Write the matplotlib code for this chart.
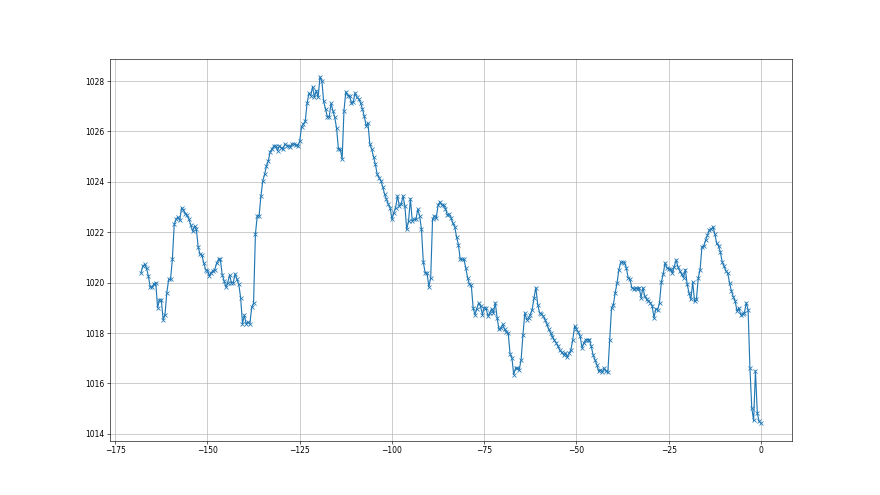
import numpy as np
import matplotlib
matplotlib.use("Agg")
import matplotlib.pyplot as plt

# hours before now, half-hourly readings
hours = np.arange(-168, 0.5, 0.5)

pressure = [
    # -168 .. -143
    1020.39, 1020.65, 1020.72, 1020.56, 1020.26, 1019.82, 1019.82, 1019.95, 1020.0, 1019.0,
    1019.32, 1019.32, 1018.53, 1018.73, 1019.6, 1020.13, 1020.13, 1020.92, 1022.31, 1022.51,
    1022.6, 1022.47, 1022.98, 1022.87, 1022.74, 1022.68, 1022.51, 1022.28, 1022.04, 1022.24,
    1022.11, 1021.41, 1021.12, 1021.09, 1020.78, 1020.52, 1020.48, 1020.26, 1020.39, 1020.48,
    1020.52, 1020.78, 1020.92, 1020.92, 1020.32, 1020.08, 1019.82, 1020.0, 1020.3, 1020.0,
    1020.0,
    # -142.5 .. -115.5
    1020.35, 1020.13, 1019.93, 1019.4, 1018.36, 1018.71, 1018.36, 1018.44, 1018.36, 1019.02,
    1019.19, 1021.92, 1022.65, 1022.65, 1023.44, 1024.04, 1024.3, 1024.63, 1024.83, 1025.2,
    1025.3, 1025.43, 1025.43, 1025.23, 1025.43, 1025.36, 1025.3, 1025.5, 1025.43, 1025.43,
    1025.4, 1025.5, 1025.5, 1025.47, 1025.43, 1025.6, 1026.19, 1026.29, 1026.4, 1027.11,
    1027.51, 1027.42, 1027.78, 1027.35, 1027.62, 1027.35, 1028.17, 1028.01, 1027.19, 1026.89,
    1026.58, 1026.58, 1027.11, 1026.82, 1026.56,
    # -115 .. -88.5
    1026.12, 1025.3, 1025.3, 1024.9, 1026.82, 1027.58, 1027.42, 1027.42, 1027.13, 1027.15,
    1027.53, 1027.35, 1027.29, 1027.13, 1026.89, 1026.6, 1026.22, 1026.33, 1025.5, 1025.3,
    1025.0, 1024.7, 1024.3, 1024.17, 1024.04, 1023.81, 1023.51, 1023.31, 1023.11, 1022.98,
    1022.51, 1022.78, 1022.98, 1023.44, 1023.04, 1023.11, 1023.44, 1023.04, 1022.11, 1022.44,
    1023.33, 1022.44, 1022.51, 1022.51, 1022.91, 1022.65, 1022.11, 1020.81, 1020.39, 1020.39,
    1019.83, 1020.19, 1022.51, 1022.65,
    # -88 .. -60
    1022.55, 1023.08, 1023.21, 1023.08, 1023.08, 1022.94, 1022.68, 1022.71, 1022.58, 1022.35,
    1022.22, 1021.82, 1021.51, 1020.92, 1020.92, 1020.92, 1020.59, 1020.19, 1019.93, 1019.89,
    1019.0, 1018.73, 1018.96, 1019.2, 1019.06, 1018.73, 1019.0, 1019.0, 1018.67, 1018.8,
    1018.96, 1018.8, 1019.2, 1018.6, 1018.14, 1018.2, 1018.34, 1018.16, 1018.03, 1018.0,
    1017.18, 1017.01, 1016.35, 1016.61, 1016.61, 1016.55, 1016.94, 1017.94, 1018.8, 1018.53,
    1018.6, 1018.73, 1018.93, 1019.4, 1019.8, 1019.13, 1018.8,
    # -59.5 .. -30.5
    1018.76, 1018.67, 1018.53, 1018.34, 1018.14, 1018.0, 1017.85, 1017.71, 1017.61, 1017.47,
    1017.31, 1017.23, 1017.14, 1017.2, 1017.05, 1017.2, 1017.34, 1017.74, 1018.27, 1018.14,
    1018.03, 1017.87, 1017.41, 1017.61, 1017.74, 1017.74, 1017.74, 1017.47, 1017.14, 1016.94,
    1016.74, 1016.48, 1016.54, 1016.44, 1016.61, 1016.48, 1016.44, 1017.74, 1019.0, 1019.13,
    1019.6, 1019.99, 1020.52, 1020.81, 1020.81, 1020.79, 1020.59, 1020.19, 1020.13, 1019.8,
    1019.76, 1019.8, 1019.76, 1019.8, 1019.4, 1019.8, 1019.46, 1019.33, 1019.26,
    # -30 .. 0
    1019.2, 1019.09, 1018.6, 1018.96, 1018.93, 1019.2, 1020.02, 1020.33, 1020.79, 1020.59,
    1020.55, 1020.55, 1020.37, 1020.63, 1020.9, 1020.63, 1020.46, 1020.33, 1020.19, 1020.52,
    1019.93, 1019.59, 1019.33, 1020.02, 1019.26, 1019.33, 1020.19, 1020.52, 1021.43, 1021.45,
    1021.69, 1021.88, 1022.09, 1022.11, 1022.22, 1021.92, 1021.56, 1021.45, 1021.21, 1020.81,
    1020.65, 1020.46, 1020.37, 1019.97, 1019.66, 1019.44, 1019.26, 1018.87, 1019.0, 1018.73,
    1018.77, 1018.8, 1019.2, 1018.93, 1016.61, 1015.02, 1014.53, 1016.5, 1014.82, 1014.49,
    1014.42,
]

fig, ax = plt.subplots(figsize=(16, 9), dpi=55)
ax.plot(hours, pressure, marker="x")
ax.grid(True)
fig.savefig("out.png", dpi=55)
